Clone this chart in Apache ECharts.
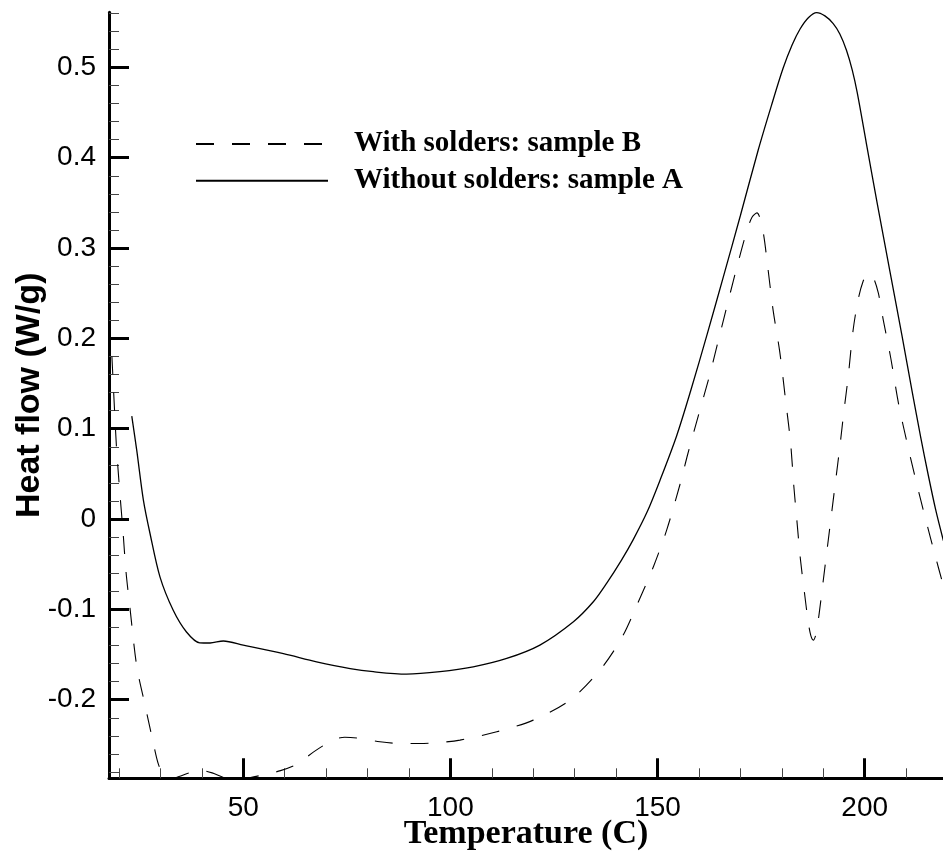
<!DOCTYPE html>
<html>
<head>
<meta charset="utf-8">
<title>Heat flow</title>
<script src="https://cdn.jsdelivr.net/npm/echarts@6/dist/echarts.min.js"></script>
<style>
html,body{margin:0;padding:0;background:#fff;}
#heat_chart{width:943px;height:855px;}
</style>
</head>
<body>
<div id="heat_chart"></div>
<script>
//样品A 无焊料(实线)
var tempA = [23.1, 24.3, 25.9, 27.5, 29.9, 33.1, 36.3, 39.5, 42.0, 45.2, 50.0, 59.7, 67.7, 75.8, 81.4, 89.4, 97.5, 105.5, 113.6, 121.6, 129.7, 134.5, 137.7, 141.3, 144.1, 147.5, 150.6, 154.6, 158.0, 162.0, 166.0, 170.0, 174.3, 177.5, 180.3, 182.5, 184.4, 186.4, 188.4, 190.4, 192.4, 194.0, 195.6, 197.0, 198.2, 200.4, 203.0, 206.1, 209.0, 211.5, 213.5, 215.3, 217.1, 219.0];
var heatA = [0.114, 0.076, 0.021, -0.016, -0.064, -0.101, -0.125, -0.137, -0.1372, -0.135, -0.1395, -0.149, -0.158, -0.1655, -0.169, -0.1717, -0.169, -0.1636, -0.1543, -0.1395, -0.1137, -0.0916, -0.0712, -0.0454, -0.023, 0.008, 0.043, 0.092, 0.142, 0.205, 0.270, 0.336, 0.4086, 0.458, 0.499, 0.525, 0.5425, 0.555, 0.5607, 0.557, 0.5485, 0.537, 0.519, 0.497, 0.472, 0.416, 0.350, 0.274, 0.203, 0.140, 0.091, 0.0496, 0.011, -0.024];

//样品B 有焊料(虚线)
var tempB = [18.3, 19.0, 19.4, 20.2, 21.0, 21.7, 22.7, 24.3, 26.3, 28.3, 29.5, 30.7, 32.5, 34.5, 37.0, 40.0, 42.5, 45.5, 48.5, 51.5, 55.0, 59.0, 63.3, 67.0, 71.7, 74.5, 77.5, 83.0, 88.0, 92.6, 97.0, 102.3, 111.2, 120.0, 128.9, 136.1, 141.3, 145.2, 149.0, 152.2, 155.4, 157.3, 160.0, 162.5, 164.8, 167.2, 169.5, 171.5, 172.8, 174.0, 175.4, 176.6, 177.9, 179.5, 181.0, 182.1, 182.9, 183.6, 184.5, 185.5, 186.4, 187.0, 187.6, 188.2, 189.0, 190.0, 191.0, 192.0, 193.0, 194.0, 195.0, 196.0, 197.2, 198.4, 199.6, 200.8, 202.0, 203.3, 204.5, 206.3, 208.2, 210.3, 212.4, 214.7, 217.1, 219.0];
var heatB = [0.18, 0.115, 0.08, 0.03, -0.015, -0.058, -0.10, -0.163, -0.206, -0.248, -0.271, -0.282, -0.2875, -0.285, -0.281, -0.2785, -0.281, -0.2865, -0.289, -0.2865, -0.283, -0.2785, -0.2705, -0.2577, -0.2447, -0.2415, -0.2425, -0.2466, -0.2484, -0.2484, -0.2475, -0.2447, -0.2355, -0.2226, -0.2004, -0.1672, -0.132, -0.0934, -0.0528, -0.0122, 0.038, 0.072, 0.117, 0.158, 0.2, 0.244, 0.285, 0.318, 0.334, 0.339, 0.320, 0.279, 0.231, 0.185, 0.128, 0.085, 0.036, 0.0, -0.045, -0.083, -0.115, -0.129, -0.134, -0.128, -0.105, -0.068, -0.031, 0.006, 0.043, 0.08, 0.12, 0.157, 0.209, 0.2425, 0.263, 0.272, 0.268, 0.25, 0.22, 0.178, 0.127, 0.083, 0.042, 0.0, -0.042, -0.074];

//刻度
var xMajorTicks = [50, 100, 150, 200];
var xMinorTicks = [20, 30, 40, 60, 70, 80, 90, 110, 120, 130, 140, 160, 170, 180, 190, 210];
var yMajorTicks = [-0.2, -0.1, 0, 0.1, 0.2, 0.3, 0.4, 0.5];
var yMinorTicks = [-0.28, -0.26, -0.24, -0.22, -0.18, -0.16, -0.14, -0.12, -0.08, -0.06, -0.04, -0.02, 0.02, 0.04, 0.06, 0.08, 0.12, 0.14, 0.16, 0.18, 0.22, 0.24, 0.26, 0.28, 0.32, 0.34, 0.36, 0.38, 0.42, 0.44, 0.46, 0.48, 0.52, 0.54, 0.56];

var nameA = 'Without solders: sample A';
var nameB = 'With solders: sample B';

var xMin = 17.6, xMax = 218.9;
var yMin = -0.287, yMax = 0.561;

function pairs(xs, ys){
	return xs.map(function(v, i){
		return [v, ys[i]];
	});
}

var heatChart = echarts.init(document.getElementById('heat_chart'));
var heatOption = {
	animation: false,
	backgroundColor: '#fff',
	grid: {
		left: 109,
		top: 12.3,
		right: 0,
		bottom: 76.7,
		containLabel: false,
		outerBoundsMode: 'none'
	},
	legend: {
		orient: 'vertical',
		left: 195,
		top: 129,
		padding: 0,
		itemWidth: 132,
		itemHeight: 14,
		itemGap: 6.7,
		data: [nameB, nameA],
		itemStyle: {opacity: 0},
		textStyle: {
			fontFamily: 'Liberation Serif',
			fontWeight: 'bold',
			fontSize: 29,
			lineHeight: 30,
			color: '#000',
			padding: [0, 0, 0, 21]
		}
	},
	xAxis: [
		{	// 主刻度 + 标签
			type: 'value',
			min: xMin,
			max: xMax,
			position: 'bottom',
			name: 'Temperature (C)',
			nameLocation: 'middle',
			nameGap: 39,
			nameMoveOverlap: false,
			nameTextStyle: {
				fontFamily: 'Liberation Serif',
				fontWeight: 'bold',
				fontSize: 34,
				color: '#000'
			},
			axisLine: {show: true, onZero: false, lineStyle: {color: '#000', width: 3}},
			axisTick: {show: true, inside: true, length: 20, customValues: xMajorTicks, lineStyle: {color: '#000', width: 3}},
			axisLabel: {
				customValues: xMajorTicks,
				margin: 16,
				fontFamily: 'Liberation Sans',
				fontSize: 28,
				color: '#000'
			},
			splitLine: {show: false}
		},
		{	// 次刻度
			type: 'value',
			min: xMin,
			max: xMax,
			position: 'bottom',
			axisLine: {show: false, onZero: false},
			axisTick: {show: true, inside: true, length: 10, customValues: xMinorTicks, lineStyle: {color: '#444', width: 1}},
			axisLabel: {show: false},
			splitLine: {show: false}
		}
	],
	yAxis: [
		{
			type: 'value',
			min: yMin,
			max: yMax,
			position: 'left',
			name: 'Heat flow (W/g)',
			nameLocation: 'middle',
			nameRotate: 90,
			nameGap: 62,
			nameMoveOverlap: false,
			nameTextStyle: {
				fontFamily: 'Liberation Sans',
				fontWeight: 'bold',
				fontSize: 34,
				color: '#000'
			},
			axisLine: {show: true, onZero: false, lineStyle: {color: '#000', width: 3}},
			axisTick: {show: true, inside: true, length: 20, customValues: yMajorTicks, lineStyle: {color: '#000', width: 3}},
			axisLabel: {
				customValues: yMajorTicks,
				margin: 13,
				fontFamily: 'Liberation Sans',
				fontSize: 28,
				color: '#000',
				formatter: function(v){
					return String(Math.round(v * 10) / 10);
				}
			},
			splitLine: {show: false}
		},
		{
			type: 'value',
			min: yMin,
			max: yMax,
			position: 'left',
			axisLine: {show: false, onZero: false},
			axisTick: {show: true, inside: true, length: 10, customValues: yMinorTicks, lineStyle: {color: '#444', width: 1}},
			axisLabel: {show: false},
			splitLine: {show: false}
		}
	],
	series: [
		{
			name: nameB,
			type: 'line',
			xAxisIndex: 0,
			yAxisIndex: 0,
			data: pairs(tempB, heatB),
			smooth: 0.3,
			symbol: 'none',
			lineStyle: {color: '#000', width: 1.1, type: [18, 18]},
			itemStyle: {color: '#000'}
		},
		{
			name: nameA,
			type: 'line',
			xAxisIndex: 0,
			yAxisIndex: 0,
			data: pairs(tempA, heatA),
			smooth: 0.3,
			symbol: 'none',
			lineStyle: {color: '#000', width: 1.3, type: 'solid'},
			itemStyle: {color: '#000'}
		}
	]
};
heatChart.setOption(heatOption);
</script>
</body>
</html>
